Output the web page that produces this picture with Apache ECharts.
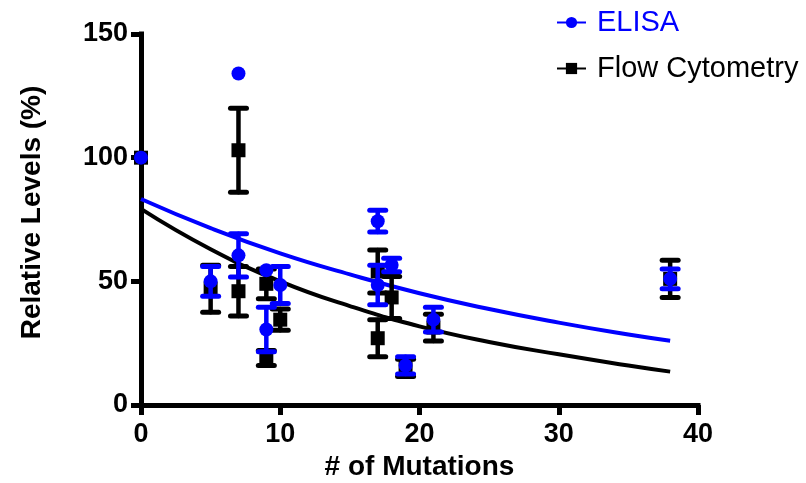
<!DOCTYPE html>
<html>
<head>
<meta charset="utf-8">
<script src="https://cdn.jsdelivr.net/npm/echarts@6/dist/echarts.min.js"></script>
<style>html,body{margin:0;padding:0;background:#fff}#c{width:806px;height:483px}</style>
</head>
<body>
<div id="c"></div>
<script>
// ---- data ----
var xTicks = [0, 10, 20, 30, 40];
var yTicks = [0, 50, 100, 150];

// ELISA: [mutations, mean, error]
var elisaX    = [0,   5,  7,   7,    9,    9,    10,   17,   17,   18,   19, 21,   38];
var elisaY    = [100, 50, 134, 60.5, 54.5, 30.5, 48.5, 74.3, 48.5, 56.6, 16, 34.5, 51];
var elisaErr  = [0,   6,  0,   8.7,  0,    9,    7.5,  4.4,  8,    2.7,  3.5, 5,   4];

// Flow Cytometry: [mutations, mean, error]
var flowX     = [0,   5,  7,   7,  9,  9,  10,   17, 17,  18,   19, 21,   38];
var flowY     = [100, 47, 103, 46, 49, 19, 34.5, 54, 27,  43.5, 15, 31.3, 51];
var flowErr   = [0,   9.5, 17, 10, 6,  3,  4.3,  8.7, 7.5, 8.5, 3.5, 5.4, 7.5];

// fitted decay curves
var fitX      = [0,    5,    10,   15,   20,   25,   30,   35,   38];
var elisaFit  = [83.3, 71.5, 61.3, 52.8, 45.2, 38.8, 33.3, 28.5, 26];
var flowFit   = [79.3, 63,   50,   40,   31.8, 25.5, 20.5, 16,   13.5];

var BLUE = '#0000ff', BLACK = '#000000';
var FONT = '"Liberation Sans", Arial, sans-serif';

function pairs(xs, ys) { return xs.map(function (x, i) { return [x, ys[i]]; }); }
function errData(xs, ys, es) {
  var out = [];
  xs.forEach(function (x, i) { if (es[i] > 0) out.push([x, ys[i] - es[i], ys[i] + es[i]]); });
  return out;
}
function errRender(color) {
  return function (params, api) {
    var x = api.value(0);
    var lo = api.coord([x, api.value(1)]);
    var hi = api.coord([x, api.value(2)]);
    var hw = 8;
    var st = { stroke: color, lineWidth: 4.5, lineCap: 'round' };
    return {
      type: 'group',
      children: [
        { type: 'line', shape: { x1: lo[0], y1: lo[1], x2: hi[0], y2: hi[1] }, style: st },
        { type: 'line', shape: { x1: lo[0] - hw, y1: lo[1], x2: lo[0] + hw, y2: lo[1] }, style: { stroke: color, lineWidth: 5, lineCap: 'round' } },
        { type: 'line', shape: { x1: hi[0] - hw, y1: hi[1], x2: hi[0] + hw, y2: hi[1] }, style: { stroke: color, lineWidth: 5, lineCap: 'round' } }
      ]
    };
  };
}

var chart = echarts.init(document.getElementById('c'), null, { renderer: 'canvas' });
var axisCommon = {
  axisLine: { show: true, lineStyle: { color: '#000', width: 5, cap: 'square' } },
  axisTick: { show: true, length: 10, lineStyle: { color: '#000', width: 5 } },
  splitLine: { show: false },
  nameTextStyle: { fontFamily: FONT, fontWeight: 'bold', fontSize: 28, color: '#000' }
};
chart.setOption({
  animation: false,
  backgroundColor: '#fff',
  grid: { left: 141, right: 108, top: 34, bottom: 78, outerBoundsMode: 'none', containLabel: false },
  legend: {
    orient: 'vertical',
    left: 551,
    top: 3,
    itemWidth: 29,
    itemHeight: 14,
    itemGap: 17,
    textStyle: { fontFamily: FONT, fontSize: 29, padding: [0, 0, 0, 6] },
    data: [
      { name: 'ELISA', textStyle: { color: BLUE } },
      { name: 'Flow Cytometry', textStyle: { color: BLACK } }
    ]
  },
  xAxis: Object.assign({}, axisCommon, {
    type: 'value', min: xTicks[0], max: xTicks[xTicks.length - 1], interval: 10,
    name: '# of Mutations', nameLocation: 'middle', nameGap: 48,
    axisLabel: { fontFamily: FONT, fontWeight: 'bold', fontSize: 27, color: '#000', margin: 16 }
  }),
  yAxis: Object.assign({}, axisCommon, {
    type: 'value', min: yTicks[0], max: yTicks[yTicks.length - 1], interval: 50,
    name: 'Relative Levels (%)', nameLocation: 'middle', nameGap: 95,
    nameTextStyle: { fontFamily: FONT, fontWeight: 'bold', fontSize: 28, color: '#000', padding: [0, 0, 0, 14] },
    axisLabel: { fontFamily: FONT, fontWeight: 'bold', fontSize: 27, color: '#000', margin: 13 }
  }),
  series: [
    { name: 'ELISA', type: 'line', smooth: true, data: pairs(fitX, elisaFit), showSymbol: false,
      symbol: 'circle', symbolSize: 14, itemStyle: { color: BLUE },
      lineStyle: { color: BLUE, width: 4 }, z: 2 },
    { name: 'Flow Cytometry', type: 'line', smooth: true, data: pairs(fitX, flowFit), showSymbol: false,
      symbol: 'rect', symbolSize: 14, itemStyle: { color: BLACK },
      lineStyle: { color: BLACK, width: 4 }, z: 2 },
    { name: 'Flow Cytometry', type: 'custom', renderItem: errRender(BLACK), data: errData(flowX, flowY, flowErr), z: 3 },
    { name: 'Flow Cytometry', type: 'scatter', symbol: 'rect', symbolSize: 14, itemStyle: { color: BLACK, opacity: 1 },
      data: pairs(flowX, flowY), z: 4 },
    { name: 'ELISA', type: 'custom', renderItem: errRender(BLUE), data: errData(elisaX, elisaY, elisaErr), z: 5 },
    { name: 'ELISA', type: 'scatter', symbol: 'circle', symbolSize: 14, itemStyle: { color: BLUE, opacity: 1 },
      data: pairs(elisaX, elisaY), z: 6 }
  ]
});
</script>
</body>
</html>
